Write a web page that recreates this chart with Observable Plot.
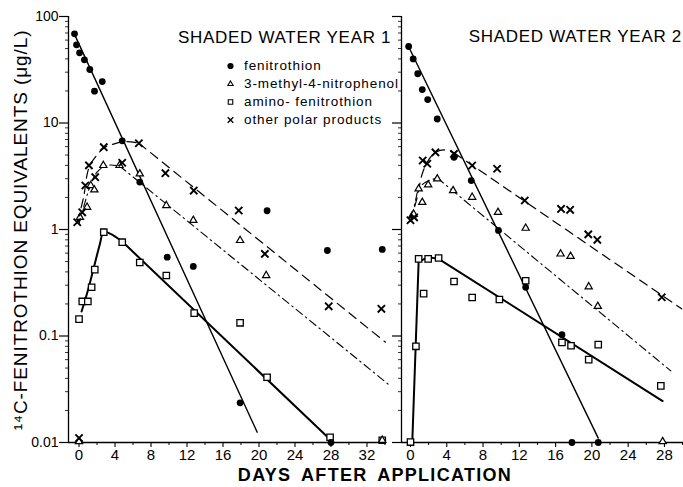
<!DOCTYPE html>
<html>
<head>
<meta charset="utf-8">
<script src="https://cdn.jsdelivr.net/npm/d3@7"></script>
<script src="https://cdn.jsdelivr.net/npm/@observablehq/plot@0.6"></script>
<style>
  html, body { margin: 0; padding: 0; background: #fff; }
  #wrap { position: relative; width: 683px; height: 487px; overflow: hidden; background: #fff;
          font-family: "Liberation Sans", Arial, sans-serif; color: #000; }
  #wrap svg.panel { position: absolute; top: 0; }
  .title { position: absolute; font-size: 17px; line-height: 17px; letter-spacing: 0.7px; white-space: nowrap; }
  .xlabel { position: absolute; font-size: 18px; line-height: 18px; font-weight: bold; letter-spacing: 1.3px; word-spacing: 4px; white-space: nowrap; transform: translateX(-50%); }
  .ylabel { position: absolute; font-size: 19px; line-height: 19px; letter-spacing: 0.9px; white-space: nowrap; transform: translate(-50%, -50%) rotate(-90deg); }
  .legend { position: absolute; font-size: 13.5px; line-height: 14px; letter-spacing: 0.9px; white-space: nowrap; }
  .legend .row { position: absolute; left: 0; display: flex; align-items: center; }
  .legend svg { display: block; margin-right: 7px; overflow: visible; }
</style>
</head>
<body>
<div id="wrap"></div>
<script>
// ---------- text ----------
const panelTitles = ["SHADED WATER YEAR 1", "SHADED WATER YEAR 2"];
const xAxisTitle = "DAYS AFTER APPLICATION";
const yAxisTitle = "\u00B9\u2074C-FENITROTHION EQUIVALENTS (\u03BCg/L)";
const seriesNames = ["fenitrothion", "3-methyl-4-nitrophenol", "amino- fenitrothion", "other polar products"];
const seriesSymbols = ["circle", "triangle", "square", "times"];

// ---------- ticks ----------
const yTickValues = [0.01, 0.1, 1, 10, 100];
const yTickLabels = ["0.01", "0.1", "1", "10", "100"];
const yMinorTicks = [0.02,0.03,0.04,0.05,0.06,0.07,0.08,0.09,0.2,0.3,0.4,0.5,0.6,0.7,0.8,0.9,2,3,4,5,6,7,8,9,20,30,40,50,60,70,80,90];
const xTicksYear1 = [0, 4, 8, 12, 16, 20, 24, 28, 32];
const xMinorYear1 = [2, 6, 10, 14, 18, 22, 26, 30, 34];
const xTicksYear2 = [0, 4, 8, 12, 16, 20, 24, 28];
const xMinorYear2 = [2, 6, 10, 14, 18, 22, 26, 30];

// ---------- Year 1 measured points [day, µg/L] ----------
const y1Fenitrothion = [[-0.5,68.8],[-0.28,54.2],[0.06,45.6],[0.6,39.2],[1.2,31.8],[1.72,19.9],[2.58,24.5],[4.8,6.8],[6.75,2.79],[9.8,0.55],[12.7,0.45],[17.9,0.0236],[20.9,1.5],[27.6,0.635],[28,0.01],[33.7,0.65]];
const y1Nitrophenol = [[0,0.0102],[0.1,1.30],[0.9,1.62],[1.3,2.59],[1.7,2.36],[2.7,4.0],[4.5,4.0],[6.75,3.33],[9.7,1.68],[12.7,1.22],[17.9,0.79],[20.8,0.37],[33.7,0.0105]];
const y1Amino = [[0,0.144],[0.36,0.211],[0.98,0.211],[1.4,0.287],[1.75,0.42],[2.75,0.944],[4.8,0.76],[6.75,0.49],[9.7,0.37],[12.8,0.164],[17.9,0.133],[20.9,0.041],[27.9,0.0112],[33.7,0.0105]];
const y1Polar = [[-0.2,1.17],[0.35,1.45],[0.7,2.59],[1.1,4.0],[1.8,3.1],[2.75,5.93],[4.8,4.23],[6.65,6.46],[9.6,3.38],[12.75,2.32],[17.75,1.51],[20.65,0.59],[27.75,0.19],[33.6,0.18],[0,0.011]];

// ---------- Year 1 fitted curves ----------
const y1FenitrothionFit = [[-0.5,68],[19.8,0.0125]];
const y1NitrophenolRise = [[0,1.13],[0.72,1.87],[1.2,2.5],[2.0,3.45],[3.1,4.0],[4.5,3.95]];
const y1NitrophenolDecay = [[4.5,3.95],[34.6,0.034]];
const y1AminoRise = [[0.28,0.17],[1.0,0.27],[1.65,0.44],[2.3,0.72],[2.75,0.95],[3.5,0.91],[4.8,0.77]];
const y1AminoDecay = [[4.8,0.77],[28,0.0105]];
const y1PolarRise = [[-0.2,1.17],[0.5,2.0],[1.1,3.8],[2,5.0],[2.75,5.8],[4,6.4],[5.2,6.7],[6.65,6.46]];
const y1PolarDecay = [[6.65,6.46],[34.05,0.0875]];

// ---------- Year 2 measured points ----------
const y2Fenitrothion = [[-0.2,52.3],[0.3,40],[0.8,29],[1.3,20.6],[1.9,16.6],[2.95,10.9],[4.8,4.77],[6.7,2.88],[9.7,0.98],[12.7,0.287],[16.7,0.103],[17.8,0.01],[20.7,0.01]];
const y2Nitrophenol = [[0.2,1.35],[0.35,1.39],[0.9,2.41],[1.3,1.80],[1.95,2.63],[2.95,2.99],[4.7,2.32],[6.8,2.01],[9.65,1.45],[12.7,1.03],[16.55,0.59],[17.65,0.56],[19.65,0.29],[20.65,0.19],[27.8,0.0102]];
const y2Amino = [[0,0.0101],[0.6,0.08],[0.9,0.53],[1.45,0.25],[1.95,0.53],[3.1,0.54],[4.8,0.325],[6.8,0.23],[9.8,0.22],[12.7,0.33],[16.7,0.087],[17.7,0.081],[19.65,0.060],[20.7,0.083],[27.6,0.034]];
const y2Polar = [[0,1.22],[0.4,1.30],[1.35,4.45],[1.85,4.14],[2.75,5.3],[4.8,5.13],[6.8,3.99],[9.55,3.72],[12.6,1.87],[16.6,1.56],[17.6,1.53],[19.6,0.90],[20.6,0.80],[27.7,0.231]];

// ---------- Year 2 fitted curves ----------
const y2FenitrothionFit = [[-0.2,52],[20.7,0.011]];
const y2NitrophenolRise = [[0.19,1.3],[0.55,1.87],[0.92,2.41],[1.65,2.78],[2.95,3.05]];
const y2NitrophenolDecay = [[2.95,3.05],[28.7,0.047]];
const y2AminoRise = [[0.2,0.0101],[0.9,0.5],[2,0.55],[3.1,0.53]];
const y2AminoDecay = [[3.1,0.53],[27.8,0.0245]];
const y2PolarRise = [[0,1.2],[0.74,2.0],[1.28,3.3],[2,4.5],[2.76,5.3],[3.7,5.6],[4.8,5.25]];
const y2PolarDecay = [[4.8,5.25],[29.9,0.18]];

// ---------- drawing ----------
const X = d => d[0], Y = d => d[1];
const DASH = "9,6";
const DASHDOT = "8,4,1.5,4";

function panel(o) {
  const svg = Plot.plot({
    width: o.width, height: 487,
    marginTop: 16, marginBottom: 45, marginLeft: o.marginLeft, marginRight: o.marginRight,
    style: { background: "transparent", fontFamily: "'Liberation Sans', Arial, sans-serif", color: "#000", overflow: "visible" },
    x: { domain: o.xDomain },
    y: { type: "log", domain: [0.01, 100] },
    marks: [
      Plot.ruleX([o.xDomain[0]], { stroke: "#000", strokeWidth: 1.3 }),
      Plot.ruleY([0.01], { stroke: "#000", strokeWidth: 1.3 }),
      Plot.axisY({ ticks: yTickValues, tickSize: 9, tickPadding: 1, fontSize: 14, label: null, strokeWidth: 1.2,
                   tickFormat: o.yLabels ? (d => yTickLabels[yTickValues.indexOf(d)]) : (() => "") }),
      Plot.axisY({ ticks: yMinorTicks, tickSize: 3, tickFormat: () => "", label: null, strokeWidth: 0.8 }),
      Plot.axisX({ ticks: o.xTicks, tickSize: 5, tickPadding: 2, fontSize: 15, label: null, strokeWidth: 1.1, tickFormat: d => String(d) }),
      Plot.axisX({ ticks: o.xMinor, tickSize: 3, tickFormat: () => "", label: null, strokeWidth: 1 }),
      // fitted lines
      Plot.line(o.fenFit, { x: X, y: Y, stroke: "#000", strokeWidth: 1.4 }),
      Plot.line(o.aminoRise, { x: X, y: Y, stroke: "#000", strokeWidth: 2, curve: o.aminoCurve }),
      Plot.line(o.aminoDecay, { x: X, y: Y, stroke: "#000", strokeWidth: 2 }),
      Plot.line(o.polarRise, { x: X, y: Y, stroke: "#000", strokeWidth: 1.2, strokeDasharray: DASH, curve: "catmull-rom" }),
      Plot.line(o.polarDecay, { x: X, y: Y, stroke: "#000", strokeWidth: 1.2, strokeDasharray: DASH }),
      Plot.line(o.nitroRise, { x: X, y: Y, stroke: "#000", strokeWidth: 1.1, strokeDasharray: DASHDOT, curve: "catmull-rom" }),
      Plot.line(o.nitroDecay, { x: X, y: Y, stroke: "#000", strokeWidth: 1.1, strokeDasharray: DASHDOT }),
      // points
      Plot.dot(o.amino, { x: X, y: Y, symbol: "square", r: 3.6, fill: "white", stroke: "#000", strokeWidth: 1.3 }),
      Plot.dot(o.nitro, { x: X, y: Y, symbol: "triangle", r: 2.7, fill: "white", stroke: "#000", strokeWidth: 1.2 }),
      Plot.dot(o.polar, { x: X, y: Y, symbol: "times", r: 3.4, stroke: "#000", strokeWidth: 1.9 }),
      Plot.dot(o.fen, { x: X, y: Y, r: 3.4, fill: "#000", stroke: "none" })
    ]
  });
  svg.classList.add("panel");
  svg.style.left = o.left + "px";
  return svg;
}

const wrap = document.getElementById("wrap");

wrap.appendChild(panel({
  left: 0, width: 400, marginLeft: 68, marginRight: 15,
  xDomain: [-1.17, 34.06], xTicks: xTicksYear1, xMinor: xMinorYear1, yLabels: true,
  fen: y1Fenitrothion, nitro: y1Nitrophenol, amino: y1Amino, polar: y1Polar,
  fenFit: y1FenitrothionFit, nitroRise: y1NitrophenolRise, nitroDecay: y1NitrophenolDecay,
  aminoRise: y1AminoRise, aminoDecay: y1AminoDecay, aminoCurve: "catmull-rom",
  polarRise: y1PolarRise, polarDecay: y1PolarDecay
}));

wrap.appendChild(panel({
  left: 360, width: 323, marginLeft: 41, marginRight: 0,
  xDomain: [-0.99, 30.1], xTicks: xTicksYear2, xMinor: xMinorYear2, yLabels: false,
  fen: y2Fenitrothion, nitro: y2Nitrophenol, amino: y2Amino, polar: y2Polar,
  fenFit: y2FenitrothionFit, nitroRise: y2NitrophenolRise, nitroDecay: y2NitrophenolDecay,
  aminoRise: y2AminoRise, aminoDecay: y2AminoDecay, aminoCurve: "linear",
  polarRise: y2PolarRise, polarDecay: y2PolarDecay
}));

// titles
function addDiv(cls, text, css) {
  const d = document.createElement("div");
  d.className = cls; d.textContent = text;
  Object.assign(d.style, css);
  wrap.appendChild(d);
  return d;
}
addDiv("title", panelTitles[0], { left: "178px", top: "29px" });
addDiv("title", panelTitles[1], { right: "1px", top: "28px" });
addDiv("xlabel", xAxisTitle, { left: "375px", top: "466px" });
addDiv("ylabel", yAxisTitle, { left: "20px", top: "230px" });

// legend
const legend = document.createElement("div");
legend.className = "legend";
Object.assign(legend.style, { left: "225px", top: "0px" });
const rowY = [65.7, 84, 101.7, 120];
seriesNames.forEach((name, i) => {
  const row = document.createElement("div");
  row.className = "row";
  row.style.top = (rowY[i] - 7) + "px";
  const s = d3.create("svg").attr("width", 12).attr("height", 14);
  const g = s.append("g").attr("transform", "translate(5.5,7)");
  const sym = seriesSymbols[i];
  if (sym === "circle") g.append("circle").attr("r", 3.1).attr("fill", "#000");
  if (sym === "triangle") g.append("path").attr("d", d3.symbol(d3.symbolTriangle2, 20)()).attr("fill", "none").attr("stroke", "#000").attr("stroke-width", 1.1);
  if (sym === "square") g.append("path").attr("d", d3.symbol(d3.symbolSquare2, 26)()).attr("fill", "none").attr("stroke", "#000").attr("stroke-width", 1.1);
  if (sym === "times") g.append("path").attr("d", d3.symbol(d3.symbolTimes, 22)()).attr("fill", "none").attr("stroke", "#000").attr("stroke-width", 1.4);
  row.appendChild(s.node());
  const t = document.createElement("span");
  t.textContent = name;
  row.appendChild(t);
  legend.appendChild(row);
});
wrap.appendChild(legend);
</script>
</body>
</html>
